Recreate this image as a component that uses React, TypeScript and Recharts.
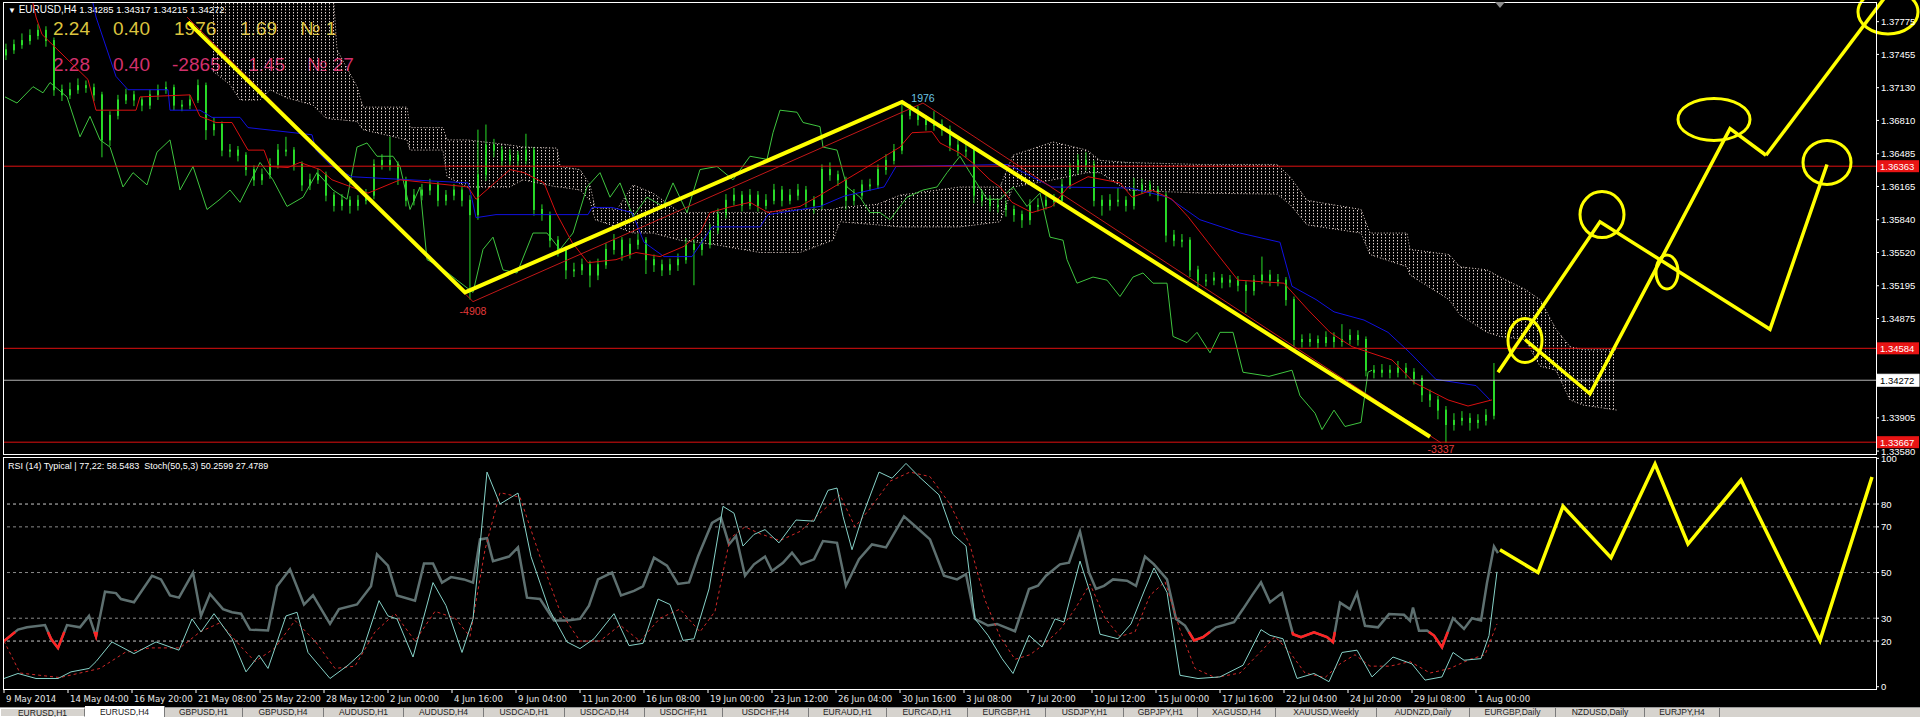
// EURUSD H4 — MT4-style screen: candles + Ichimoku, zigzag drawings, RSI/Stoch sub-window.
import React from 'react';
import { ComposedChart, Bar, Line, Area, XAxis, YAxis, ReferenceLine, ReferenceDot } from 'recharts';

// All prices below are stored as price × 10 000 (13750 = 1.3750).
// One candle = two H4 bars (8 hours); x is counted in H4 bars from 9 May 2014.
const OPEN = [
  13745, 13750, 13755, 13759, 13764, 13769, 13759, 13711, 13706, 13711,
  13715, 13713, 13706, 13662, 13686, 13701, 13706, 13701, 13696, 13706,
  13711, 13713, 13696, 13696, 13701, 13715, 13672, 13677, 13652, 13652,
  13647, 13633, 13623, 13628, 13638, 13652, 13652, 13638, 13618, 13623,
  13628, 13608, 13598, 13603, 13598, 13603, 13608, 13638, 13642, 13638,
  13623, 13603, 13608, 13613, 13618, 13603, 13608, 13613, 13603, 13589,
  13628, 13657, 13652, 13642, 13647, 13642, 13652, 13594, 13589, 13564,
  13555, 13535, 13535, 13540, 13530, 13540, 13555, 13564, 13550, 13560,
  13564, 13545, 13540, 13535, 13540, 13545, 13560, 13555, 13560, 13574,
  13589, 13603, 13608, 13598, 13608, 13598, 13603, 13613, 13603, 13608,
  13613, 13603, 13598, 13633, 13628, 13623, 13603, 13608, 13618, 13618,
  13633, 13642, 13652, 13686, 13691, 13682, 13677, 13677, 13672, 13657,
  13652, 13652, 13608, 13603, 13598, 13598, 13594, 13589, 13584, 13598,
  13598, 13603, 13603, 13618, 13633, 13642, 13638, 13603, 13598, 13603,
  13603, 13598, 13613, 13618, 13613, 13608, 13569, 13564, 13564, 13535,
  13525, 13525, 13527, 13523, 13525, 13520, 13515, 13525, 13530, 13525,
  13525, 13506, 13467, 13465, 13467, 13464, 13469, 13465, 13467, 13471,
  13467, 13437, 13435, 13437, 13435, 13439, 13435, 13429, 13413, 13408,
  13398, 13384, 13388, 13390, 13386, 13388, 13393,
];
const HIGH = [
  13756, 13760, 13766, 13770, 13775, 13773, 13762, 13716, 13718, 13722,
  13720, 13717, 13709, 13690, 13706, 13712, 13710, 13704, 13711, 13716,
  13719, 13716, 13701, 13706, 13721, 13718, 13684, 13680, 13658, 13656,
  13650, 13637, 13634, 13644, 13658, 13665, 13655, 13641, 13629, 13634,
  13631, 13611, 13609, 13607, 13608, 13614, 13643, 13648, 13665, 13641,
  13626, 13614, 13619, 13624, 13621, 13613, 13619, 13617, 13608, 13672,
  13677, 13663, 13656, 13653, 13651, 13668, 13655, 13599, 13592, 13568,
  13558, 13542, 13546, 13544, 13546, 13561, 13570, 13567, 13566, 13570,
  13567, 13550, 13545, 13546, 13551, 13566, 13565, 13566, 13580, 13595,
  13609, 13615, 13612, 13614, 13612, 13609, 13619, 13617, 13614, 13619,
  13617, 13607, 13638, 13640, 13632, 13626, 13614, 13623, 13624, 13638,
  13648, 13658, 13698, 13697, 13695, 13686, 13690, 13682, 13676, 13662,
  13658, 13656, 13613, 13608, 13604, 13603, 13598, 13593, 13604, 13605,
  13608, 13609, 13624, 13639, 13648, 13650, 13642, 13608, 13609, 13615,
  13607, 13625, 13624, 13622, 13617, 13611, 13574, 13570, 13567, 13539,
  13531, 13533, 13531, 13530, 13529, 13524, 13530, 13548, 13535, 13531,
  13528, 13509, 13472, 13473, 13471, 13475, 13474, 13482, 13477, 13476,
  13470, 13442, 13443, 13442, 13446, 13444, 13439, 13432, 13418, 13412,
  13402, 13395, 13397, 13395, 13394, 13399, 13444,
];
const LOW = [
  13740, 13746, 13751, 13755, 13760, 13753, 13705, 13700, 13702, 13707,
  13708, 13700, 13645, 13656, 13682, 13697, 13695, 13690, 13692, 13701,
  13707, 13691, 13690, 13692, 13698, 13662, 13666, 13646, 13645, 13641,
  13627, 13617, 13618, 13624, 13634, 13646, 13632, 13612, 13613, 13619,
  13602, 13592, 13593, 13590, 13593, 13599, 13604, 13633, 13632, 13618,
  13597, 13598, 13603, 13608, 13597, 13598, 13603, 13597, 13506, 13584,
  13622, 13645, 13636, 13637, 13636, 13638, 13588, 13583, 13557, 13548,
  13526, 13528, 13530, 13518, 13525, 13536, 13550, 13544, 13546, 13555,
  13531, 13533, 13529, 13530, 13534, 13541, 13520, 13549, 13556, 13570,
  13585, 13598, 13592, 13594, 13592, 13594, 13599, 13597, 13599, 13603,
  13596, 13590, 13594, 13622, 13617, 13594, 13598, 13604, 13612, 13614,
  13628, 13638, 13648, 13682, 13676, 13671, 13671, 13666, 13651, 13646,
  13645, 13600, 13597, 13592, 13591, 13587, 13582, 13576, 13579, 13592,
  13594, 13597, 13599, 13614, 13628, 13632, 13597, 13588, 13593, 13597,
  13592, 13594, 13609, 13607, 13602, 13562, 13558, 13557, 13528, 13518,
  13519, 13520, 13517, 13518, 13514, 13493, 13510, 13521, 13519, 13519,
  13500, 13460, 13459, 13460, 13458, 13460, 13459, 13460, 13462, 13461,
  13431, 13429, 13430, 13429, 13430, 13429, 13423, 13406, 13401, 13389,
  13366, 13378, 13383, 13378, 13380, 13383, 13389,
];
const CLOSE = [
  13750, 13755, 13759, 13764, 13769, 13759, 13711, 13706, 13711, 13715,
  13713, 13706, 13662, 13686, 13701, 13706, 13701, 13696, 13706, 13711,
  13713, 13696, 13696, 13701, 13715, 13672, 13677, 13652, 13652, 13647,
  13633, 13623, 13628, 13638, 13652, 13652, 13638, 13618, 13623, 13628,
  13608, 13598, 13603, 13598, 13603, 13608, 13638, 13642, 13638, 13623,
  13603, 13608, 13613, 13618, 13603, 13608, 13613, 13603, 13589, 13628,
  13657, 13652, 13642, 13647, 13642, 13652, 13594, 13589, 13564, 13555,
  13535, 13535, 13540, 13530, 13540, 13555, 13564, 13550, 13560, 13564,
  13545, 13540, 13535, 13540, 13545, 13560, 13555, 13560, 13574, 13589,
  13603, 13608, 13598, 13608, 13598, 13603, 13613, 13603, 13608, 13613,
  13603, 13598, 13633, 13628, 13623, 13603, 13608, 13618, 13618, 13633,
  13642, 13652, 13686, 13691, 13682, 13677, 13677, 13672, 13657, 13652,
  13652, 13608, 13603, 13598, 13598, 13594, 13589, 13584, 13598, 13598,
  13603, 13603, 13618, 13633, 13642, 13638, 13603, 13598, 13603, 13603,
  13598, 13613, 13618, 13613, 13608, 13569, 13564, 13564, 13535, 13525,
  13525, 13527, 13523, 13525, 13520, 13515, 13525, 13530, 13525, 13525,
  13506, 13467, 13465, 13467, 13464, 13469, 13465, 13467, 13471, 13467,
  13437, 13435, 13437, 13435, 13439, 13435, 13429, 13413, 13408, 13398,
  13384, 13388, 13390, 13386, 13388, 13393, 13427,
];

// Ichimoku lines: [bar, price × 10 000]
const TENKAN = [
  [7, 13800], [8, 13782], [9.5, 13765], [21, 13721], [23, 13691], [33, 13691], [34, 13704], [46.5, 13706],
  [49, 13685], [53, 13679], [57, 13679], [61, 13652], [65, 13652], [66.5, 13636], [71, 13635], [74, 13640],
  [79, 13633], [82, 13623], [91, 13610], [99, 13623], [116, 13616], [118, 13604], [126.5, 13633], [130, 13630],
  [135, 13620], [138, 13591], [142, 13562], [146, 13542], [153, 13545], [158, 13552], [164, 13548], [170, 13558],
  [174, 13571], [176.5, 13591], [181, 13596], [186.5, 13601], [191, 13591], [199, 13597], [204, 13608], [216, 13636],
  [224, 13655], [227, 13669], [232, 13670], [234, 13659], [239, 13649], [242, 13640], [246.5, 13623], [249, 13616],
  [252, 13601], [257, 13591], [262, 13597], [266, 13616], [271, 13626], [279, 13620], [282, 13606], [287, 13613],
  [292, 13604], [296, 13587], [301, 13562], [308.5, 13525], [320, 13522], [326, 13496], [331.5, 13474], [337, 13460],
  [347, 13447], [352.5, 13425], [361, 13408], [366, 13402], [372, 13408],
];
const KIJUN = [
  [22, 13800], [23, 13782], [28, 13724], [31, 13711], [41, 13711], [41.5, 13691], [49, 13691], [52, 13684],
  [59, 13684], [61, 13674], [77, 13667], [78, 13652], [82, 13636], [87, 13626], [116, 13620], [117, 13604],
  [118, 13586], [123, 13589], [146, 13589], [147, 13596], [152, 13596], [157, 13591], [160, 13562], [165, 13548],
  [172, 13548], [176, 13571], [177, 13577], [189, 13577], [191, 13589], [204, 13597], [210, 13607], [220, 13616],
  [223, 13636], [251, 13638], [257, 13626], [262, 13616], [281.5, 13615], [291, 13606], [299, 13584], [309, 13571],
  [319, 13562], [322, 13519], [328, 13506], [332.5, 13494], [340, 13486], [346, 13474], [351.5, 13454], [358, 13428],
  [368, 13422], [371.5, 13408],
];
const CHIKOU = [
  [0.25, 13704], [3.25, 13698], [7.25, 13714], [9.75, 13708], [11.5, 13718], [15.75, 13704], [19, 13665], [21.5, 13685],
  [24, 13662], [26.5, 13655], [29.75, 13616], [32.25, 13630], [35.75, 13618], [38.25, 13650], [41.5, 13662], [44, 13613],
  [47.25, 13636], [50.75, 13594], [54, 13604], [56.5, 13613], [59, 13601], [64, 13640], [67.25, 13623], [70.75, 13597],
  [74.75, 13606], [78.25, 13630], [82.25, 13613], [85.75, 13604], [88.25, 13655], [90.75, 13659], [93.25, 13646], [97.25, 13646],
  [99, 13636], [101.5, 13594], [104, 13616], [105.75, 13545], [109, 13538], [113.25, 13525], [117.25, 13513], [119.75, 13555],
  [122.25, 13567], [124.75, 13535], [128.25, 13532], [132.25, 13571], [135.75, 13571], [139, 13555], [142.25, 13571], [145.75, 13616],
  [149, 13630], [151.5, 13606], [154, 13620], [157.25, 13587], [160.75, 13606], [164.75, 13597], [167.25, 13620], [170.75, 13591],
  [174, 13633], [178.25, 13636], [182.25, 13623], [186.5, 13646], [190.75, 13643], [192.25, 13669], [194, 13691], [198.25, 13689],
  [199.75, 13679], [204, 13675], [204.75, 13655], [208.25, 13652], [210.75, 13616], [214, 13606], [216.5, 13591], [219, 13591],
  [221.5, 13584], [224, 13597], [225.75, 13606], [229.75, 13613], [233.25, 13616], [235.75, 13630], [239, 13646], [241.5, 13630],
  [245.75, 13604], [249, 13604], [252.25, 13616], [255.75, 13597], [259, 13610], [261.5, 13567], [264.75, 13564], [265.75, 13545],
  [268.25, 13522], [272.25, 13528], [275.75, 13525], [279, 13509], [282.25, 13528], [284.75, 13532], [287.25, 13522], [290.75, 13522],
  [292.25, 13470], [295.75, 13464], [298.25, 13474], [301.5, 13454], [304, 13474], [307.25, 13474], [309.75, 13435], [316.25, 13431],
  [322, 13437], [324, 13412], [327.75, 13395], [329.5, 13379], [332.5, 13398], [335.25, 13382], [339.25, 13386], [341, 13435],
  [342, 13437],
];
// Kumo (cloud): [bar, lower span, upper span]
const KUMO = [
  [52.25, 13729, 13808], [56.5, 13716, 13808], [59, 13701, 13808], [64, 13701, 13808], [66.5, 13711, 13808],
  [70.75, 13703, 13808], [77.25, 13696, 13808], [80.25, 13684, 13808], [82.25, 13682, 13808], [83.25, 13682, 13750],
  [88.25, 13680, 13714], [89.75, 13672, 13694], [100.75, 13662, 13694], [101.5, 13652, 13674], [109.75, 13652, 13674],
  [110.75, 13626, 13662], [115.75, 13616, 13662], [126.5, 13616, 13657], [129.75, 13623, 13655], [138.25, 13616, 13654],
  [139, 13616, 13636], [144, 13613, 13633], [146.5, 13603, 13618], [147.75, 13584, 13596], [153.25, 13577, 13594],
  [157.25, 13571, 13618], [162.25, 13571, 13610], [169, 13564, 13591], [177.25, 13560, 13591], [189, 13552, 13591],
  [199, 13552, 13594], [207.25, 13564, 13594], [209, 13582, 13596], [218.25, 13579, 13599], [224, 13577, 13608],
  [239, 13577, 13616], [249, 13582, 13616], [252.25, 13616, 13647], [262.25, 13623, 13660], [270.75, 13630, 13652],
  [274, 13630, 13642], [280.75, 13613, 13640], [299, 13610, 13638], [318.25, 13609, 13638], [321.5, 13599, 13626],
  [325.75, 13579, 13603], [339.25, 13571, 13594], [341.5, 13550, 13571], [350.75, 13538, 13571], [351.5, 13530, 13555],
  [361.25, 13506, 13550], [364, 13491, 13538], [370.75, 13474, 13535], [374, 13470, 13528], [380.25, 13467, 13516],
  [384, 13441, 13506], [388, 13437, 13477], [391.5, 13408, 13460], [394.75, 13403, 13457], [403.25, 13398, 13457],
];

// Hand-drawn objects on the price window: [bar, price × 10 000]
const ZIGZAG_RED = [[45.75, 13782], [117.25, 13504], [229.75, 13698], [359.25, 13366]];
const TREND_YELLOW = [[46, 13777], [115.25, 13513], [224.5, 13699], [356.5, 13372]];
const FORECAST_A = [[373.5, 13435], [399, 13582], [441.5, 13477], [455.75, 13638]];
const FORECAST_B = [[380.25, 13467], [396.5, 13414], [431.5, 13673], [440.5, 13647]];
const FORECAST_B_TAIL = [[440.5, 13647], [470, 13800]];
// ellipses: [bar, price × 10 000, rx px, ry px]
const ELLIPSES = [
  [380.25, 13466, 17, 22], [399.5, 13589, 22, 23], [415.75, 13533, 11, 17],
  [427.5, 13682, 36, 21], [455.75, 13640, 24, 22], [471, 13787, 30, 22],
];
const SWING_LABELS = [
  { b: 229.75, p: 13698, text: '1976', color: '#6cc6e4', dy: -1 },
  { b: 117.25, p: 13504, text: '-4908', color: '#e23a3a', dy: 13 },
  { b: 359.25, p: 13366, text: '-3337', color: '#e23a3a', dy: 10 },
];
const H_LINES = [13636.3, 13458.4, 13366.7];
const LAST_PRICE = 13427.2;
const PRICE_TICKS = [
  1.37775, 1.37455, 1.3713, 1.3681, 1.36485, 1.36165, 1.3584, 1.3552, 1.35195, 1.34875, 1.33905, 1.3358,
];

// RSI(14) typical, Stoch(50,5,3): [bar, value]
const RSI = [
  [0, 20], [3.5, 25], [5.75, 26], [10.25, 27], [11.75, 21], [13.5, 17], [15.75, 27], [19, 26], [21.25, 31], [23, 22],
  [25.25, 41.6], [28, 41], [29.25, 38.4], [32.5, 37], [37, 48.6], [39.25, 47], [41.5, 40], [43.75, 39], [47.25, 50],
  [49.25, 31], [51.5, 40.6], [54.75, 34], [57, 32.6], [59.25, 32], [61.5, 25], [66, 24.6], [68.25, 44], [71.5, 51.4],
  [75, 36], [77.25, 40], [81.5, 27.5], [83.75, 34], [88.25, 36], [91.75, 44], [93.25, 58], [96, 53], [98.25, 40],
  [102.75, 37.7], [105, 54], [107.25, 54], [109.5, 45.6], [111.75, 48], [115, 47], [117.25, 45.6], [119, 64.5],
  [120.75, 65], [122.25, 55], [126.25, 57], [128.5, 61], [130.75, 39], [134, 38.4], [137.5, 29], [140.75, 29],
  [144, 29.7], [146.25, 35.5], [148.5, 47], [152, 50], [154.25, 40], [157.5, 42], [159.75, 44], [162.5, 56.5],
  [165.75, 53], [168.5, 45], [171.25, 45.7], [173.5, 57], [177, 71.7], [179.25, 74], [181.25, 62.3], [183, 66],
  [185.25, 48.6], [187.5, 53.6], [190.25, 57], [192, 50.7], [194.75, 54.3], [197, 58.7], [199.25, 53.6], [202.5, 55.8],
  [204.75, 63.8], [208.25, 63], [210.5, 44.2], [213.75, 55.8], [217, 62.3], [220.5, 61], [225, 74.6], [228.25, 69.6],
  [231.5, 64.5], [235, 48.6], [238.25, 47], [240.5, 49.3], [242.75, 29.7], [246, 26.8], [248.25, 27.5], [252.75, 24.3],
  [256.25, 42.8], [258.5, 44.2], [260.5, 48.6], [264, 53.6], [266.25, 54.3], [269, 68], [271.25, 50], [273, 42.8],
  [275, 44.2], [277.25, 47], [280.75, 46.4], [283, 44.2], [285.25, 57], [287.5, 53.6], [290.75, 47], [293, 29.7],
  [295.25, 26.8], [297.5, 20.3], [299.75, 21.7], [303, 26], [307.5, 28.3], [309.75, 34], [312, 40], [314.25, 45.7],
  [316.5, 37], [319.5, 41], [322.25, 23], [324.25, 21.7], [327.5, 23.8], [330.75, 21.7], [332.25, 19.5], [334, 36.8],
  [336.5, 34], [338.25, 41], [340.25, 26.7], [343.5, 26], [346.25, 31.8], [350, 31.5], [351.5, 28.9], [352.25, 34.7],
  [353.75, 24.5], [355.75, 24.6], [357.5, 22.4], [359.5, 17.3], [362.25, 30], [365, 25.3], [367, 30], [369.25, 29],
  [370.75, 45.5], [372.5, 61.4], [373.5, 58.5],
];
const STOCH_MAIN = [
  [0, 3.6], [3.5, 5.8], [8, 3.6], [13.5, 3.6], [16.75, 6.5], [21.25, 8], [23, 11], [27, 19.6], [32.5, 14.5], [38, 19.6],
  [43.75, 16], [47, 29.7], [49.25, 24], [52.5, 32], [57, 21], [60.5, 6.5], [63.75, 13.8], [66, 8], [70.5, 31],
  [73.25, 32.6], [76, 15], [81.5, 3.6], [86, 9.4], [89.5, 15], [93.75, 37.7], [96, 31], [98.25, 29.7], [102.25, 13],
  [107.25, 45.6], [110.5, 35.5], [114.5, 15], [117.25, 29.7], [120.75, 94], [124, 80], [128.5, 84.8], [131.75, 57],
  [136.25, 34], [140.75, 19.6], [144, 16.7], [147.5, 21], [152.5, 32], [156.25, 18], [159.75, 19], [163.5, 38.4],
  [166.5, 36], [169.75, 20.3], [172.5, 21], [176.25, 42.8], [179.75, 79], [182.5, 76], [184.75, 61.6], [187.5, 66.7],
  [190.25, 68.8], [193.75, 63], [198, 73], [202.5, 72.5], [206, 86], [208.25, 87], [209.75, 74.6], [212, 60],
  [214.75, 75.4], [218.75, 94], [222, 91.3], [225.5, 97.8], [228.75, 92], [233.75, 84], [237.25, 66.7], [240.5, 61.6],
  [242.75, 29.7], [246, 22.5], [249.5, 12.3], [252.25, 5.8], [256.25, 22.5], [259.5, 17.4], [262.75, 29.7], [265, 28.3],
  [269, 55], [271.75, 40], [274, 23], [278.5, 21], [281.75, 27.5], [285.25, 42.8], [287.5, 52], [290.75, 41.3],
  [294, 5], [298.5, 3.6], [304, 4.3], [309.75, 9.4], [314.25, 25], [316.5, 22.5], [319.75, 21], [323.25, 3.6],
  [327.5, 5.8], [331.25, 2.2], [334.5, 15], [338.25, 16], [342, 4.3], [347.25, 13], [352, 10], [355.25, 2.9],
  [359.5, 4.3], [362.25, 15], [365, 11.6], [369.25, 12.3], [371.25, 22.4], [373.25, 50.3],
];
const STOCH_SIGNAL = [
  [0, 20], [4, 6], [14, 4], [24, 8], [30.25, 15], [36.5, 17], [44, 17], [49, 24], [54, 28], [59, 18], [62.75, 11],
  [67.75, 17], [72.75, 29], [77.75, 20], [82.75, 8], [87.75, 9], [92.75, 24], [97.75, 32], [102.75, 20], [107.75, 33],
  [112.75, 30], [116.5, 22], [120.25, 60], [124, 85], [129, 83], [134, 57], [139, 33], [144, 20], [149, 20], [154, 27],
  [159, 20], [164, 30], [169, 34], [174, 24], [177.75, 33], [181.5, 65], [185.25, 70], [189, 67], [194, 64], [199, 68],
  [204, 76], [209, 84], [212.75, 70], [216.5, 78], [221.5, 90], [226.5, 94], [231.5, 92], [236.5, 80], [241.5, 62],
  [245.25, 38], [249, 22], [252.75, 12], [256.5, 14], [260.25, 19], [264, 25], [267.75, 34], [271.5, 45], [275.25, 30],
  [279, 22], [282.75, 24], [286.5, 40], [290.25, 46], [294, 25], [297.75, 8], [302.75, 4], [309, 6], [314, 15],
  [317.75, 22], [321.5, 15], [325.25, 6], [330.25, 4], [334, 10], [337.75, 14], [341.5, 9], [346.5, 9], [351.5, 11],
  [356.5, 6], [361.5, 8], [366.5, 12], [370.25, 14], [373.25, 27.5],
];
const RSI_FORECAST = [
  [374, 60], [383.5, 50], [389.75, 79], [401.75, 56.5], [412.75, 97.5], [421, 62.5], [434.25, 90.5], [454, 20.2], [467, 91.8],
];
const RSI_LEVELS = [80, 70, 50, 30, 20];
const RSI_TICKS = [0, 20, 30, 50, 70, 80, 100];
const RSI_OVERSOLD = 24;

const TIME_TICKS = [0, 16, 32, 48, 64, 80, 96, 112, 128, 144, 160, 176, 192, 208, 224, 240, 256, 272, 288, 304, 320, 336, 352, 368];
const TIME_LABELS = [
  '9 May 2014', '14 May 04:00', '16 May 20:00', '21 May 08:00', '25 May 22:00', '28 May 12:00', '2 Jun 00:00',
  '4 Jun 16:00', '9 Jun 04:00', '11 Jun 20:00', '16 Jun 08:00', '19 Jun 00:00', '23 Jun 12:00', '26 Jun 04:00',
  '30 Jun 16:00', '3 Jul 08:00', '7 Jul 20:00', '10 Jul 12:00', '15 Jul 00:00', '17 Jul 16:00', '22 Jul 04:00',
  '24 Jul 20:00', '29 Jul 08:00', '1 Aug 00:00',
];

const TABS = [
  'EURUSD,H1', 'EURUSD,H4', 'GBPUSD,H1', 'GBPUSD,H4', 'AUDUSD,H1', 'AUDUSD,H4', 'USDCAD,H1', 'USDCAD,H4',
  'USDCHF,H1', 'USDCHF,H4', 'EURAUD,H1', 'EURCAD,H1', 'EURGBP,H1', 'USDJPY,H1', 'GBPJPY,H1', 'XAGUSD,H4',
  'XAUUSD,Weekly', 'AUDNZD,Daily', 'EURGBP,Daily', 'NZDUSD,Daily', 'EURJPY,H4',
];
const TAB_EDGES = [0, 85, 165, 243, 324, 404, 484, 565, 645, 723, 809, 887, 968, 1046, 1124, 1198, 1276, 1377, 1470, 1556, 1645, 1720];

const FONT = "'Liberation Sans', Arial, sans-serif";
const NARROW = "'Liberation Sans Narrow', 'DejaVu Sans Condensed', 'Liberation Sans', sans-serif";
const X_DOMAIN = [0, 468];
const PRICE_DOMAIN = [1.33571, 1.37967];

const px = (v) => v / 10000;
const candles = CLOSE.map((c, k) => ({ b: 2 * k + 0.5, o: px(OPEN[k]), h: px(HIGH[k]), l: px(LOW[k]), c: px(c) }));
const pricePts = (arr) => arr.map(([b, v]) => ({ b, v: px(v) }));
const valuePts = (arr) => arr.map(([b, v]) => ({ b, v }));
const kumo = KUMO.map(([b, lo, hi]) => ({ b, r: [px(lo), px(hi)], lo: px(lo), hi: px(hi) }));

// pieces of the RSI that sit under the oversold mark, cut at the crossing
function belowRuns(pts, limit) {
  const out = [];
  pts.forEach((p, i) => {
    const q = pts[i - 1];
    const inP = p.v <= limit;
    if (q && (q.v <= limit) !== inP) {
      const t = (limit - q.v) / (p.v - q.v);
      out.push({ b: q.b + t * (p.b - q.b), v: limit });
      if (!inP) out.push({ b: p.b, v: null });
    }
    if (inP) out.push(p);
  });
  return out;
}

function Candle(props) {
  const { x, y, width, height, payload } = props;
  if (!payload || x == null || y == null) return null;
  const top = Math.min(y, y + height);
  const hgt = Math.abs(height);
  const { o, h, l, c } = payload;
  const span = h - l;
  const at = (v) => (span > 0 ? top + ((h - v) / span) * hgt : top);
  const mid = x + width / 2;
  const bTop = at(Math.max(o, c));
  const bBot = at(Math.min(o, c));
  const up = c >= o;
  return (
    <g>
      <line x1={mid} x2={mid} y1={top} y2={top + hgt} stroke="#28dc28" strokeWidth={1} />
      <rect x={x} y={bTop} width={width} height={Math.max(bBot - bTop, 1)} fill={up ? '#96ff96' : '#2fd42f'} stroke="#28dc28" strokeWidth={1} />
    </g>
  );
}

function PriceTick({ x, y, payload }) {
  return (
    <text x={x} y={y + 3.5} fill="#ffffff" fontSize={9.5} fontFamily={FONT}>
      {payload.value.toFixed(5)}
    </text>
  );
}

function RsiTick({ x, y, payload }) {
  return (
    <text x={x} y={y + 3.5} fill="#ffffff" fontSize={9.5} fontFamily={FONT}>
      {payload.value}
    </text>
  );
}

function TimeTick({ x, y, payload }) {
  return (
    <text x={x + 2} y={y + 7} fill="#e6e6e6" fontSize={9.5} fontFamily={NARROW}>
      {TIME_LABELS[Math.round(payload.value / 16)]}
    </text>
  );
}

const priceTag = (text, bg, fg, border) => (props) => {
  const vb = props.viewBox || {};
  const x0 = (vb.x || 0) + (vb.width || 0) + 1;
  const y0 = vb.y || 0;
  return (
    <g>
      <rect x={x0} y={y0 - 6} width={42} height={12} fill={bg} stroke={border || 'none'} strokeWidth={1} />
      <text x={x0 + 3} y={y0 + 3.5} fontSize={9.5} fill={fg} fontFamily={FONT}>
        {text}
      </text>
    </g>
  );
};

const yellow = '#ffff00';

function PriceWindow() {
  return (
    <ComposedChart width={1920} height={459} data={candles} margin={{ top: 2, right: 0, bottom: 7, left: 4 }}>
      <XAxis type="number" dataKey="b" domain={X_DOMAIN} allowDataOverflow hide />
      <YAxis
        orientation="right"
        width={44}
        domain={PRICE_DOMAIN}
        allowDataOverflow
        ticks={PRICE_TICKS}
        interval={0}
        tick={PriceTick}
        tickSize={3}
        tickMargin={2}
        axisLine={false}
        tickLine={{ stroke: '#ffffff' }}
      />
      <Area data={kumo} dataKey="r" stroke="none" fill="url(#kumoHatch)" fillOpacity={1} isAnimationActive={false} />
      <Line data={kumo} dataKey="hi" stroke="#e4d2cc" strokeWidth={1} strokeDasharray="1 2" dot={false} isAnimationActive={false} />
      <Line data={kumo} dataKey="lo" stroke="#e4d2cc" strokeWidth={1} strokeDasharray="1 2" dot={false} isAnimationActive={false} />
      <Line data={pricePts(CHIKOU)} dataKey="v" stroke="#3fc43f" strokeWidth={1} dot={false} isAnimationActive={false} />
      <Line data={pricePts(KIJUN)} dataKey="v" stroke="#1010e0" strokeWidth={1} dot={false} isAnimationActive={false} />
      <Line data={pricePts(TENKAN)} dataKey="v" stroke="#d81010" strokeWidth={1} dot={false} isAnimationActive={false} />
      <Bar dataKey={(d) => [d.l, d.h]} barSize={5} shape={(p) => <Candle {...p} />} isAnimationActive={false} />
      {H_LINES.map((v) => (
        <ReferenceLine key={v} y={px(v)} stroke="#e01010" strokeWidth={1} ifOverflow="visible" label={priceTag(px(v).toFixed(5), '#e81414', '#ffffff')} />
      ))}
      <ReferenceLine y={px(LAST_PRICE)} stroke="#b4b4b4" strokeWidth={1} ifOverflow="visible" label={priceTag(px(LAST_PRICE).toFixed(5), '#ffffff', '#000000', '#ffffff')} />
      <Line data={pricePts(ZIGZAG_RED)} dataKey="v" stroke="#c01818" strokeWidth={1} dot={false} isAnimationActive={false} />
      <Line data={pricePts(TREND_YELLOW)} dataKey="v" stroke={yellow} strokeWidth={4} dot={false} isAnimationActive={false} />
      <Line data={pricePts(FORECAST_A)} dataKey="v" stroke={yellow} strokeWidth={3.5} dot={false} isAnimationActive={false} />
      <Line data={pricePts(FORECAST_B)} dataKey="v" stroke={yellow} strokeWidth={3.5} dot={false} isAnimationActive={false} />
      <ReferenceLine
        segment={FORECAST_B_TAIL.map(([b, v]) => ({ x: b, y: px(v) }))}
        stroke={yellow}
        strokeWidth={3.5}
        ifOverflow="visible"
      />
      {ELLIPSES.map(([b, v, rx, ry], i) => (
        <ReferenceDot
          key={`e${i}`}
          x={b}
          y={px(v)}
          r={0}
          ifOverflow="visible"
          shape={(p) => <ellipse cx={p.cx} cy={p.cy} rx={rx} ry={ry} fill="none" stroke={yellow} strokeWidth={3} />}
        />
      ))}
      {SWING_LABELS.map((s) => (
        <ReferenceDot
          key={s.text}
          x={s.b}
          y={px(s.p)}
          r={0}
          ifOverflow="visible"
          shape={(p) => (
            <text x={p.cx} y={p.cy + s.dy} textAnchor="middle" fill={s.color} fontSize={10.5} fontFamily={FONT}>
              {s.text}
            </text>
          )}
        />
      ))}
    </ComposedChart>
  );
}

function OscillatorWindow() {
  return (
    <ComposedChart width={1920} height={252} margin={{ top: 3, right: 0, bottom: 0, left: 4 }}>
      <XAxis
        type="number"
        dataKey="b"
        domain={X_DOMAIN}
        allowDataOverflow
        ticks={TIME_TICKS}
        interval={0}
        tick={TimeTick}
        tickSize={4}
        tickMargin={2}
        height={17}
        axisLine={false}
        tickLine={{ stroke: '#ffffff' }}
      />
      <YAxis
        orientation="right"
        width={44}
        domain={[-1, 100.6]}
        allowDataOverflow
        ticks={RSI_TICKS}
        interval={0}
        tick={RsiTick}
        tickSize={3}
        tickMargin={2}
        axisLine={false}
        tickLine={{ stroke: '#ffffff' }}
      />
      {RSI_LEVELS.map((lv) => (
        <ReferenceLine
          key={lv}
          y={lv}
          stroke={lv === 80 || lv === 20 ? '#c8c8c8' : '#8a8a8a'}
          strokeWidth={1}
          strokeDasharray="3 3"
        />
      ))}
      <Line data={valuePts(RSI)} dataKey="v" stroke="#5e7070" strokeWidth={2.5} dot={false} isAnimationActive={false} />
      <Line data={belowRuns(valuePts(RSI), RSI_OVERSOLD)} dataKey="v" stroke="#ff2424" strokeWidth={2.5} dot={false} isAnimationActive={false} />
      <Line data={valuePts(STOCH_SIGNAL)} dataKey="v" stroke="#d02828" strokeWidth={1} strokeDasharray="3 3" dot={false} isAnimationActive={false} />
      <Line data={valuePts(STOCH_MAIN)} dataKey="v" stroke="#86d2c8" strokeWidth={1} dot={false} isAnimationActive={false} />
      <Line data={valuePts(RSI_FORECAST)} dataKey="v" stroke={yellow} strokeWidth={3.5} dot={false} isAnimationActive={false} />
    </ComposedChart>
  );
}

const abs = (style) => ({ position: 'absolute', ...style });

const ROW_GOLD = [['2.24', 53], ['0.40', 113], ['1976', 174], ['1.69', 240], ['№ 1', 300]];
const ROW_RED = [['2.28', 53], ['0.40', 113], ['-2865', 172], ['1.45', 248], ['№ 27', 307]];

export default function App() {
  return (
    <div style={{ position: 'fixed', left: 0, top: 0, width: 1920, height: 717, background: '#000', overflow: 'hidden', fontFamily: FONT }}>
      <svg width={0} height={0} style={{ position: 'absolute' }}>
        <defs>
          <pattern id="kumoHatch" x={0} y={0} width={4} height={3} patternUnits="userSpaceOnUse">
            <rect x={1} y={0} width={1} height={1.4} fill="#e2d4d0" />
          </pattern>
        </defs>
      </svg>

      <div style={abs({ left: 8, top: 4, color: '#fff', fontSize: 10, whiteSpace: 'pre', lineHeight: '12px' })}>
        <span style={{ fontSize: 8 }}>▼</span> EURUSD,H4 <span style={{ fontSize: 9.5 }}>1.34285 1.34317 1.34215 1.34272</span>
      </div>
      {ROW_GOLD.map(([t, x]) => (
        <div key={`a${x}`} style={abs({ left: x, top: 19, color: '#dcc43e', fontSize: 19, lineHeight: '20px', whiteSpace: 'pre' })}>
          {t}
        </div>
      ))}
      {ROW_RED.map(([t, x]) => (
        <div key={`b${x}`} style={abs({ left: x, top: 55, color: '#d2306c', fontSize: 19, lineHeight: '20px', whiteSpace: 'pre' })}>
          {t}
        </div>
      ))}
      <div style={abs({ left: 8, top: 461, color: '#fff', fontSize: 9, lineHeight: '11px', whiteSpace: 'pre' })}>
        RSI (14) Typical | 77,22: 58.5483  Stoch(50,5,3) 50.2599 27.4789
      </div>

      <div style={abs({ left: 0, top: 0 })}>
        <PriceWindow />
      </div>
      <div style={abs({ left: 0, top: 454 })}>
        <OscillatorWindow />
      </div>

      <div style={abs({ left: 3, top: 2, width: 1874, height: 453, border: '1px solid #fff', boxSizing: 'border-box', pointerEvents: 'none' })} />
      <div style={abs({ left: 3, top: 457, width: 1874, height: 233, border: '1px solid #fff', boxSizing: 'border-box', pointerEvents: 'none' })} />
      <div style={abs({ left: 1495, top: 2, width: 0, height: 0, borderLeft: '5px solid transparent', borderRight: '5px solid transparent', borderTop: '6px solid #8c8c8c' })} />

      <div style={abs({ left: 0, top: 707, width: 1920, height: 10, background: '#d6d3ce', borderTop: '1px solid #9a9a9a', boxSizing: 'border-box' })} />
      {TABS.map((name, i) => (
        <div
          key={name}
          style={abs({
            left: TAB_EDGES[i],
            top: i === 1 ? 706 : 708,
            width: TAB_EDGES[i + 1] - TAB_EDGES[i],
            height: i === 1 ? 11 : 9,
            background: i === 1 ? '#ffffff' : 'transparent',
            border: i === 0 ? '1px solid #ffffff' : 'none',
            borderRight: '1px solid #7a7a7a',
            boxSizing: 'border-box',
            fontSize: 8.5,
            lineHeight: '9px',
            paddingTop: i === 1 ? 2 : 0,
            textAlign: 'center',
            color: '#202020',
            whiteSpace: 'nowrap',
          })}
        >
          {name}
        </div>
      ))}
    </div>
  );
}
